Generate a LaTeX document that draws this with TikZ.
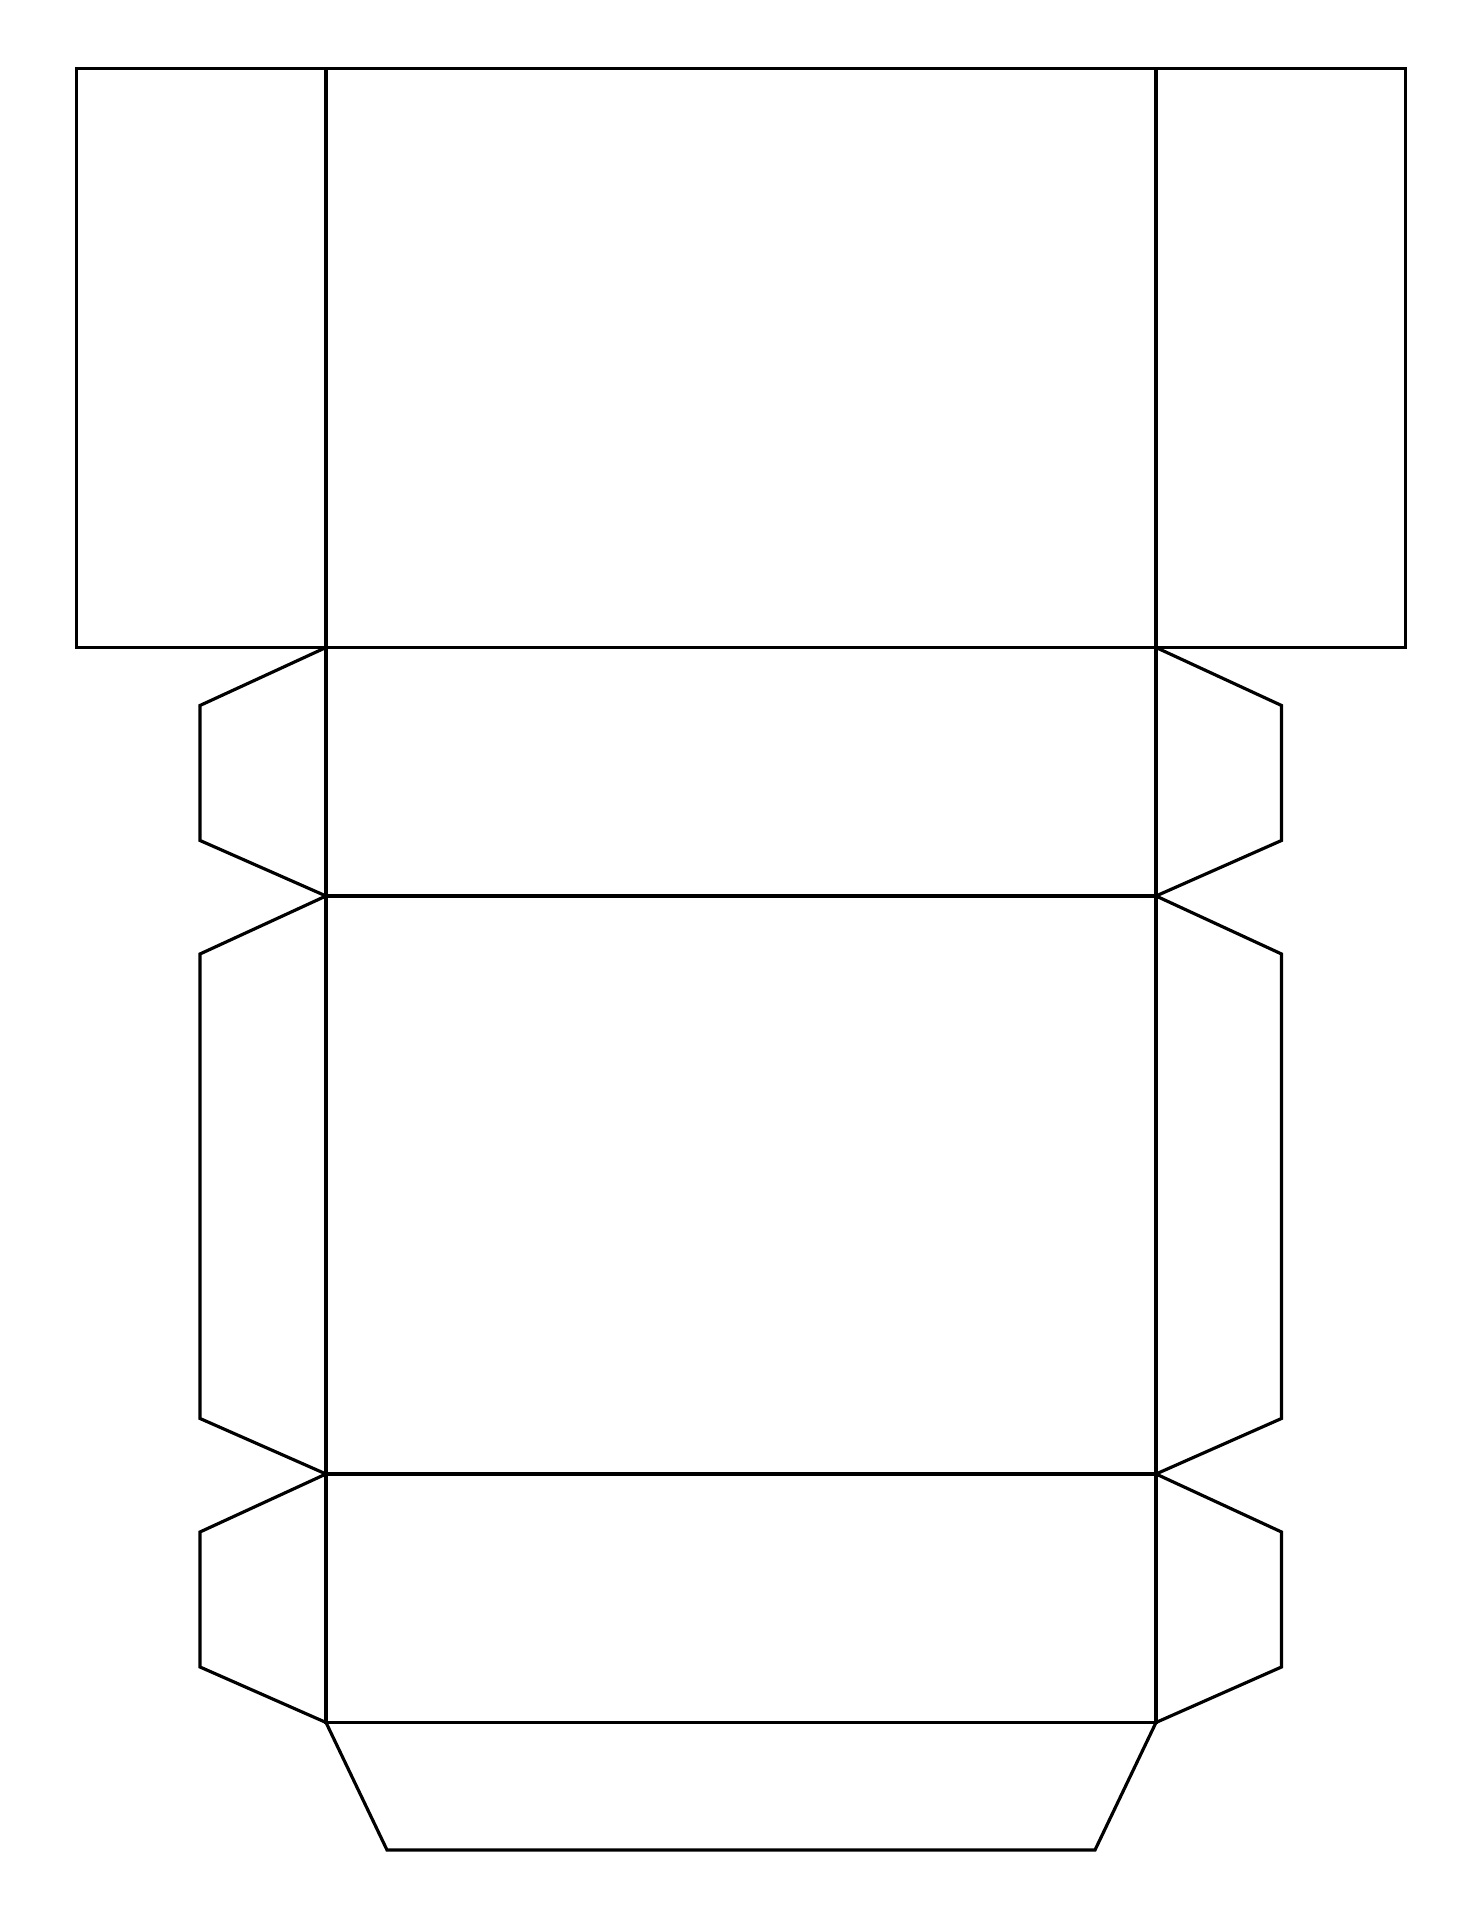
\documentclass[tikz,border=0pt]{standalone}
\usepackage{tikz}
\usetikzlibrary{calc}
\tikzset{
  % net
	cstnet/.style        ={line width=0.9pt, line join=miter}, %展开图边
	cstflap/.style       ={line width=0.9pt, line join=miter}  %粘贴边
}

\begin{document}
\begin{tikzpicture}
				\useasboundingbox (0,0) rectangle (14.82,19.2);
				\coordinate (lt) at (3.26,18.515);
				\coordinate (rt) at (11.56,18.515);
				\coordinate (lb) at (3.26,1.975);
				\coordinate (rb) at (11.56,1.975);
				% side panels
				\draw[cstnet] (lt) -- (0.765,18.515) -- (0.765,12.725) -- (3.26,12.725);
				\draw[cstnet] (rt) -- (14.055,18.515) -- (14.055,12.725) -- (11.56,12.725);
				% main strip
				\draw[cstnet] (lt) rectangle (rb);
				\foreach \y in {12.725,10.24,4.46}
					\draw[cstnet] (3.26,\y) -- (11.56,\y);
				% flaps
				\foreach \a/\b in {12.725/10.24,10.24/4.46,4.46/1.975}{
					\draw[cstflap] (3.26,\a) -- (2.00,\a-0.58) -- (2.00,\b+0.555) -- (3.26,\b);
					\draw[cstflap] (11.56,\a) -- (12.815,\a-0.58) -- (12.815,\b+0.555) -- (11.56,\b);
				}
				\draw[cstflap] (lb) -- (3.87,0.70) -- (10.95,0.70) -- (rb);
			\end{tikzpicture}
\end{document}
